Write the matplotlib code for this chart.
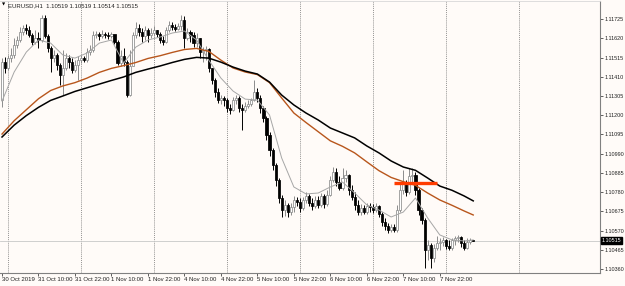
import numpy as np
import matplotlib.pyplot as plt
import matplotlib.transforms as mtransforms

plt.rcParams['font.family'] = ['Liberation Sans Narrow', 'Liberation Sans', 'DejaVu Sans']

# EURUSD H1 candles, bar 0 = 30 Oct 22:00
first_open = 1.11283
closes = [
    1.11490, 1.11458, 1.11512, 1.11529, 1.11583, 1.11611, 1.11654, 1.11676, 1.11665, 1.11638,
    1.11600, 1.11621, 1.11611, 1.11731, 1.11632, 1.11567, 1.11512, 1.11529, 1.11474, 1.11420,
    1.11458, 1.11512, 1.11490, 1.11447, 1.11474, 1.11501, 1.11512, 1.11501, 1.11545, 1.11556,
    1.11638, 1.11643, 1.11632, 1.11643, 1.11638, 1.11632, 1.11643, 1.11600, 1.11485, 1.11523,
    1.11490, 1.11310, 1.11469, 1.11638, 1.11676, 1.11654, 1.11632, 1.11665, 1.11638, 1.11649,
    1.11665, 1.11643, 1.11611, 1.11600, 1.11665, 1.11692, 1.11682, 1.11671, 1.11687, 1.11720,
    1.11621, 1.11654, 1.11638, 1.11594, 1.11621, 1.11545, 1.11556, 1.11561, 1.11458, 1.11392,
    1.11327, 1.11283, 1.11294, 1.11283, 1.11239, 1.11228, 1.11283, 1.11294, 1.11239, 1.11228,
    1.11250, 1.11261, 1.11283, 1.11327, 1.11294, 1.11239, 1.11185, 1.11092, 1.11010, 1.10928,
    1.10846, 1.10748, 1.10682, 1.10710, 1.10671, 1.10699, 1.10737, 1.10726, 1.10693, 1.10737,
    1.10759, 1.10721, 1.10704, 1.10737, 1.10710, 1.10759, 1.10715, 1.10764, 1.10846, 1.10890,
    1.10835, 1.10802, 1.10857, 1.10874, 1.10792, 1.10753, 1.10710, 1.10671, 1.10693, 1.10671,
    1.10704, 1.10699, 1.10682, 1.10704, 1.10661, 1.10617, 1.10595, 1.10573, 1.10590, 1.10573,
    1.10682, 1.10792, 1.10824, 1.10781, 1.10868, 1.10874, 1.10792, 1.10682, 1.10628, 1.10464,
    1.10491, 1.10420, 1.10475, 1.10502, 1.10508, 1.10519, 1.10486, 1.10475, 1.10519, 1.10530,
    1.10535, 1.10502, 1.10475, 1.10508, 1.10519, 1.10515,
]
highs = [
    1.11512, 1.11518, 1.11529, 1.11567, 1.11621, 1.11632, 1.11682, 1.11692, 1.11698, 1.11687,
    1.11649, 1.11665, 1.11654, 1.11747, 1.11747, 1.11643, 1.11578, 1.11556, 1.11540, 1.11485,
    1.11556, 1.11540, 1.11529, 1.11512, 1.11501, 1.11523, 1.11529, 1.11523, 1.11567, 1.11583,
    1.11660, 1.11660, 1.11654, 1.11665, 1.11654, 1.11654, 1.11654, 1.11638, 1.11611, 1.11556,
    1.11567, 1.11501, 1.11556, 1.11654, 1.11709, 1.11698, 1.11676, 1.11687, 1.11676, 1.11676,
    1.11687, 1.11665, 1.11654, 1.11632, 1.11682, 1.11714, 1.11709, 1.11698, 1.11703, 1.11747,
    1.11742, 1.11676, 1.11665, 1.11654, 1.11649, 1.11621, 1.11572, 1.11578, 1.11567, 1.11458,
    1.11403, 1.11348, 1.11310, 1.11305, 1.11294, 1.11261, 1.11299, 1.11310, 1.11305, 1.11261,
    1.11272, 1.11283, 1.11294, 1.11392, 1.11348, 1.11310, 1.11250, 1.11196, 1.11108, 1.11021,
    1.10939, 1.10857, 1.10764, 1.10737, 1.10721, 1.10721, 1.10759, 1.10753, 1.10748, 1.10753,
    1.10781, 1.10770, 1.10748, 1.10759, 1.10759, 1.10775, 1.10770, 1.10792, 1.10868, 1.10917,
    1.10912, 1.10868, 1.10912, 1.10901, 1.10879, 1.10819, 1.10781, 1.10737, 1.10715, 1.10710,
    1.10721, 1.10721, 1.10715, 1.10721, 1.10710, 1.10671, 1.10639, 1.10611, 1.10606, 1.10606,
    1.10710, 1.10835, 1.10901, 1.10846, 1.10912, 1.10912, 1.10890, 1.10802, 1.10693, 1.10639,
    1.10519, 1.10502, 1.10497, 1.10540, 1.10530, 1.10535, 1.10524, 1.10519, 1.10530, 1.10540,
    1.10546, 1.10540, 1.10519, 1.10530, 1.10530, 1.10519,
]
lows = [
    1.11245, 1.11430, 1.11447, 1.11490, 1.11512, 1.11567, 1.11600, 1.11638, 1.11643, 1.11627,
    1.11583, 1.11589, 1.11567, 1.11600, 1.11621, 1.11545, 1.11436, 1.11490, 1.11447, 1.11365,
    1.11310, 1.11447, 1.11458, 1.11430, 1.11436, 1.11392, 1.11485, 1.11490, 1.11490, 1.11529,
    1.11545, 1.11621, 1.11611, 1.11621, 1.11621, 1.11616, 1.11621, 1.11589, 1.11474, 1.11469,
    1.11469, 1.11299, 1.11305, 1.11469, 1.11621, 1.11632, 1.11600, 1.11611, 1.11600, 1.11621,
    1.11632, 1.11627, 1.11594, 1.11583, 1.11594, 1.11654, 1.11665, 1.11660, 1.11665, 1.11665,
    1.11567, 1.11611, 1.11600, 1.11572, 1.11572, 1.11512, 1.11490, 1.11501, 1.11436, 1.11370,
    1.11299, 1.11267, 1.11261, 1.11250, 1.11217, 1.11207, 1.11223, 1.11261, 1.11217, 1.11119,
    1.11217, 1.11239, 1.11250, 1.11277, 1.11272, 1.11212, 1.11163, 1.11065, 1.10977, 1.10901,
    1.10813, 1.10721, 1.10644, 1.10650, 1.10644, 1.10655, 1.10671, 1.10704, 1.10671, 1.10682,
    1.10721, 1.10704, 1.10682, 1.10693, 1.10693, 1.10699, 1.10693, 1.10704, 1.10759, 1.10835,
    1.10813, 1.10792, 1.10792, 1.10835, 1.10764, 1.10737, 1.10682, 1.10655, 1.10655, 1.10661,
    1.10661, 1.10671, 1.10666, 1.10671, 1.10644, 1.10595, 1.10573, 1.10557, 1.10562, 1.10562,
    1.10562, 1.10671, 1.10770, 1.10759, 1.10770, 1.10824, 1.10764, 1.10655, 1.10606, 1.10366,
    1.10409, 1.10366, 1.10398, 1.10464, 1.10464, 1.10486, 1.10469, 1.10464, 1.10464, 1.10491,
    1.10508, 1.10480, 1.10464, 1.10469, 1.10497, 1.10514,
]
opens = [first_open] + closes[:-1]

# moving averages read every 4 bars (plus the last bar)
ma_bars = list(range(0, 156, 4)) + [155]
ma_fast = [
    1.11277, 1.11436, 1.11545, 1.11611, 1.11594, 1.11529, 1.11512, 1.11540, 1.11594, 1.11611,
    1.11485, 1.11572, 1.11611, 1.11627, 1.11649, 1.11660, 1.11611, 1.11501, 1.11403, 1.11332,
    1.11288, 1.11283, 1.11201, 1.10966, 1.10808, 1.10770, 1.10775, 1.10808, 1.10835, 1.10775,
    1.10710, 1.10682, 1.10644, 1.10671, 1.10748, 1.10639, 1.10546, 1.10519, 1.10513, 1.10519,
]
ma_orange = [
    1.11097, 1.11170, 1.11230, 1.11290, 1.11335, 1.11360, 1.11378, 1.11403, 1.11434, 1.11456,
    1.11471, 1.11488, 1.11510, 1.11525, 1.11543, 1.11559, 1.11565, 1.11549, 1.11501, 1.11458,
    1.11436, 1.11422, 1.11378, 1.11294, 1.11212, 1.11160, 1.11110, 1.11060, 1.11030, 1.10994,
    1.10945, 1.10897, 1.10860, 1.10837, 1.10817, 1.10775, 1.10737, 1.10708, 1.10677, 1.10655,
]
ma_black = [
    1.11081, 1.11146, 1.11198, 1.11243, 1.11281, 1.11305, 1.11330, 1.11350, 1.11370, 1.11390,
    1.11409, 1.11434, 1.11452, 1.11469, 1.11488, 1.11505, 1.11516, 1.11512, 1.11490, 1.11463,
    1.11441, 1.11425, 1.11381, 1.11310, 1.11256, 1.11212, 1.11174, 1.11130, 1.11103, 1.11076,
    1.11032, 1.10994, 1.10950, 1.10917, 1.10899, 1.10857, 1.10813, 1.10790, 1.10759, 1.10732,
]

time_labels = ['30 Oct 2019', '31 Oct 10:00', '31 Oct 22:00', '1 Nov 10:00', '1 Nov 22:00',
               '4 Nov 10:00', '4 Nov 22:00', '5 Nov 10:00', '5 Nov 22:00', '6 Nov 10:00',
               '6 Nov 22:00', '7 Nov 10:00', '7 Nov 22:00']
label_bars = list(range(0, 145, 12))
day_bars = list(range(2, 171, 24))  # midnight separators

price_ticks = [1.11725, 1.11620, 1.11515, 1.11410, 1.11305, 1.11200, 1.11095,
               1.10990, 1.10885, 1.10780, 1.10675, 1.10570, 1.10465, 1.10360]
last_price = 1.10515
level_price = 1.10830
level_from, level_to = 129, 143
title = 'EURUSD,H1  1.10519 1.10519 1.10514 1.10515'

bg = '#fffbf8'
fig = plt.figure(figsize=(6.25, 2.86), dpi=100, facecolor=bg)
ax = fig.add_axes([0, 13 / 286, 600 / 625, 272 / 286])
ax.set_facecolor(bg)

x = np.arange(len(closes))
o = np.array(opens)
c = np.array(closes)
h = np.array(highs)
l = np.array(lows)
up = c >= o

bull_col = '#8c8c8c'
ax.vlines(x[up], l[up], h[up], color=bull_col, lw=0.7, zorder=2)
ax.vlines(x[~up], l[~up], h[~up], color='black', lw=0.7, zorder=2)
ax.bar(x[up], (c - o)[up], bottom=o[up], width=0.7, color='white',
       edgecolor=bull_col, linewidth=0.55, zorder=3)
ax.bar(x[~up], (o - c)[~up], bottom=c[~up], width=0.7, color='black',
       edgecolor='black', linewidth=0.55, zorder=3)

ax.plot(ma_bars, ma_fast, color='#a6a6a6', lw=0.7, zorder=4)
ax.plot(ma_bars, ma_orange, color='#b8561c', lw=1.0, zorder=4)
ax.plot(ma_bars, ma_black, color='black', lw=1.1, zorder=4)

for b in day_bars:
    ax.axvline(b, color='#6e6e6e', lw=0.5, ls=(0, (1.5, 1.5)), zorder=1)

ax.axhline(last_price, color='#c8c8c8', lw=0.6, zorder=1)
ax.hlines(level_price, level_from, level_to, color='#ff3c00', lw=2.4, zorder=5)

ax.set_xlim(-0.66, 196.7)
ax.set_ylim(1.10338, 1.11824)

ax.yaxis.tick_right()
ax.set_yticks(price_ticks)
ax.set_yticklabels(['%.5f' % p for p in price_ticks])
ax.set_xticks(label_bars)
ax.set_xticklabels(time_labels, ha='left')
ax.tick_params(axis='y', length=2, width=0.5, pad=1.2, labelsize=3.9, colors='#202020')
ax.tick_params(axis='x', length=2, width=0.5, pad=0.8, labelsize=4.3, colors='#202020')

for side in ['right', 'bottom']:
    ax.spines[side].set_color('#808080')
    ax.spines[side].set_linewidth(0.8)
ax.spines['left'].set_visible(False)
ax.spines['top'].set_color('#d8d8d8')
ax.spines['top'].set_linewidth(0.6)

trans = mtransforms.blended_transform_factory(ax.transAxes, ax.transData)
ax.text(1.003, last_price, '%.5f' % last_price, transform=trans, fontsize=3.9,
        color='white', va='center', ha='left', zorder=6,
        bbox=dict(boxstyle='square,pad=0.15', fc='black', ec='black'))

fig.text(1.5 / 625, 1 - 5 / 286, '\u25bc', fontsize=3, va='center', ha='left',
         family=['DejaVu Sans'])
fig.text(8 / 625, 1 - 5.5 / 286, title, fontsize=4.3, va='center', ha='left', color='#202020')

fig.savefig('out.png', dpi=100, facecolor=bg)
